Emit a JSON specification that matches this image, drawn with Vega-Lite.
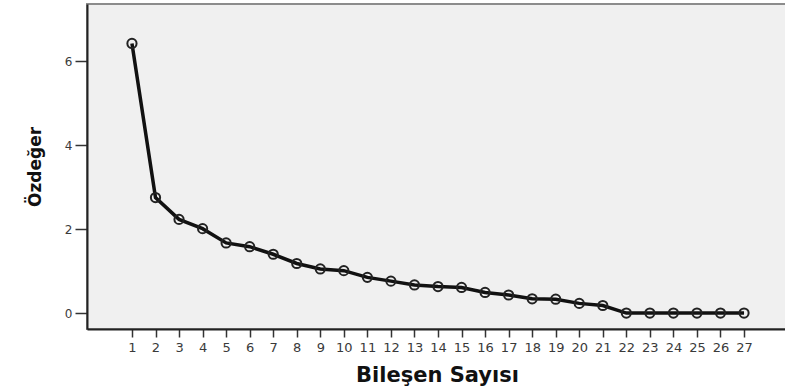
{
  "$schema": "https://vega.github.io/schema/vega-lite/v6.json",
  "autosize": "none",
  "width": 710,
  "height": 325,
  "padding": {"left": 87, "top": 4, "right": 0, "bottom": 62},
  "background": "white",
  "config": {
    "view": {"fill": "#f0f0f0", "stroke": "#8c8c8c", "strokeWidth": 2},
    "axis": {"grid": false, "domainColor": "#222", "domainWidth": 2, "tickColor": "#333", "tickWidth": 1.5, "labelColor": "#3a3a3a", "labelFont": "DejaVu Sans", "titleFont": "DejaVu Sans", "titleColor": "#111", "titleFontWeight": "bold"}
  },
  "data": {
    "values": [
      {"Bilesen": 1, "Ozdeger": 6.42},
      {"Bilesen": 2, "Ozdeger": 2.75},
      {"Bilesen": 3, "Ozdeger": 2.23},
      {"Bilesen": 4, "Ozdeger": 2.01},
      {"Bilesen": 5, "Ozdeger": 1.67},
      {"Bilesen": 6, "Ozdeger": 1.58},
      {"Bilesen": 7, "Ozdeger": 1.40},
      {"Bilesen": 8, "Ozdeger": 1.18},
      {"Bilesen": 9, "Ozdeger": 1.05},
      {"Bilesen": 10, "Ozdeger": 1.01},
      {"Bilesen": 11, "Ozdeger": 0.85},
      {"Bilesen": 12, "Ozdeger": 0.76},
      {"Bilesen": 13, "Ozdeger": 0.67},
      {"Bilesen": 14, "Ozdeger": 0.63},
      {"Bilesen": 15, "Ozdeger": 0.61},
      {"Bilesen": 16, "Ozdeger": 0.49},
      {"Bilesen": 17, "Ozdeger": 0.43},
      {"Bilesen": 18, "Ozdeger": 0.34},
      {"Bilesen": 19, "Ozdeger": 0.33},
      {"Bilesen": 20, "Ozdeger": 0.23},
      {"Bilesen": 21, "Ozdeger": 0.18},
      {"Bilesen": 22, "Ozdeger": 0.0},
      {"Bilesen": 23, "Ozdeger": 0.0},
      {"Bilesen": 24, "Ozdeger": 0.0},
      {"Bilesen": 25, "Ozdeger": 0.0},
      {"Bilesen": 26, "Ozdeger": 0.0},
      {"Bilesen": 27, "Ozdeger": 0.0}
    ]
  },
  "encoding": {
    "x": {
      "field": "Bilesen", "type": "quantitative",
      "scale": {"domain": [-0.91, 29.25], "nice": false, "zero": false},
      "axis": {"values": [1,2,3,4,5,6,7,8,9,10,11,12,13,14,15,16,17,18,19,20,21,22,23,24,25,26,27], "format": "d", "labelFontSize": 13, "tickSize": 8, "labelPadding": 4, "labelFlush": false, "labelOverlap": false, "title": "Bileşen Sayısı", "titleFontSize": 21, "titlePadding": 10, "titleX": 350}
    },
    "y": {
      "field": "Ozdeger", "type": "quantitative",
      "scale": {"domain": [-0.38, 7.36], "nice": false, "zero": false},
      "axis": {"values": [0, 2, 4, 6], "labelFontSize": 12, "tickSize": 12, "labelPadding": 3, "labelFlush": false, "title": "Özdeğer", "titleFontSize": 17, "titlePadding": 20}
    }
  },
  "layer": [
    {"mark": {"type": "line", "color": "#111", "strokeWidth": 3.5}},
    {"mark": {"type": "point", "shape": "circle", "filled": false, "size": 85, "stroke": "#222", "strokeWidth": 2, "opacity": 1}}
  ]
}
